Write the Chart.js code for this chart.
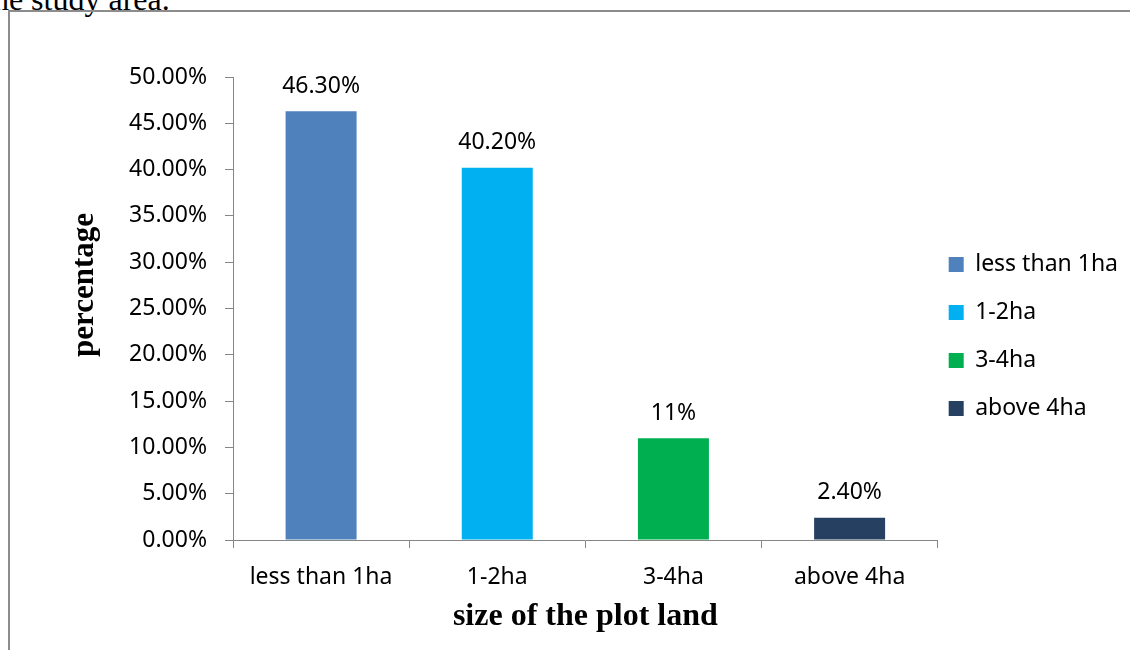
<!DOCTYPE html>
<html>
<head>
<meta charset="utf-8">
<script src="https://cdn.jsdelivr.net/npm/chart.js@4"></script>
<style>
  html, body { margin: 0; padding: 0; background: #fff; overflow: hidden; }
  .page { position: relative; width: 1130px; height: 650px; }
  .caption { position: absolute; left: -16px; top: -17px; font: 32px/32px "Liberation Serif", "Times New Roman", serif; color: #000; white-space: nowrap; }
  .frame { position: absolute; left: 8px; top: 10px; right: 0; bottom: 0; border-top: 2px solid #8c8c8c; border-left: 2px solid #8c8c8c; }
  .wrap { position: absolute; left: 0; top: 0; width: 1130px; height: 650px; }
</style>
</head>
<body>
<div class="page">
  <div class="caption">the study area.</div>
  <div class="frame"></div>
  <div class="wrap"><canvas id="plotChart" width="1130" height="650"></canvas></div>
</div>
<script>
const categories = ['less than 1ha', '1-2ha', '3-4ha', 'above 4ha'];
const shares = [46.3, 40.2, 11, 2.4];
const shareLabels = ['46.30%', '40.20%', '11%', '2.40%'];
const barColors = ['#4F81BD', '#00B0F0', '#00B050', '#254061'];
const yMin = 0, yMax = 50, yStep = 5;

const axisGray = '#868686';
const tickFont = { family: "'Noto Sans', 'Open Sans', sans-serif", size: 23 };

// value labels above each bar
const valueLabels = {
    id: 'valueLabels',
    afterDatasetsDraw(chart) {
        const ctx = chart.ctx;
        const meta = chart.getDatasetMeta(0);
        ctx.save();
        ctx.font = "23px 'Noto Sans', 'Open Sans', sans-serif";
        ctx.fillStyle = '#000';
        ctx.textAlign = 'center';
        ctx.textBaseline = 'alphabetic';
        meta.data.forEach((bar, i) => {
            ctx.fillText(shareLabels[i], bar.x, bar.y - 18.5);
        });
        ctx.restore();
    }
};

// y axis title, sits a bit above the plot centre like the original
const yTitle = {
    id: 'yTitle',
    afterDraw(chart) {
        const ctx = chart.ctx;
        ctx.save();
        ctx.translate(85, 285);
        ctx.rotate(-Math.PI / 2);
        ctx.font = "bold 31px 'Liberation Serif', 'Times New Roman', serif";
        ctx.fillStyle = '#000';
        ctx.textAlign = 'center';
        ctx.textBaseline = 'middle';
        ctx.fillText('percentage', 0, 0);
        ctx.restore();
    }
};

// nudge the legend to where the original has it
const legendShift = {
    id: 'legendShift',
    afterLayout(chart) {
        const lg = chart.legend;
        lg.left -= 14; lg.right -= 14;
        lg.top -= 27; lg.bottom -= 27;
    }
};

const ctx = document.getElementById('plotChart').getContext('2d');
const chart = new Chart(ctx, {
    type: 'bar',
    data: {
        labels: categories,
        datasets: [{
            data: shares,
            backgroundColor: barColors,
            borderWidth: 0,
            barPercentage: 0.403,
            categoryPercentage: 1
        }]
    },
    options: {
        responsive: false,
        animation: false,
        color: '#000',
        layout: { padding: { top: 77, left: 0, right: -12, bottom: 0 } },
        plugins: {
            tooltip: { enabled: false },
            legend: {
                position: 'right',
                labels: {
                    font: tickFont,
                    color: '#000',
                    boxWidth: 15,
                    boxHeight: 15,
                    padding: 25,
                    generateLabels: () => categories.map((c, i) => ({
                        text: c,
                        fillStyle: barColors[i],
                        strokeStyle: barColors[i],
                        lineWidth: 0,
                        index: i
                    }))
                }
            }
        },
        scales: {
            x: {
                afterFit(scale) { scale.height = 110; },
                grid: { display: true, drawOnChartArea: false, tickLength: 8, color: axisGray, offset: true },
                border: { color: axisGray, width: 1 },
                ticks: { font: tickFont, color: '#000', padding: 16, maxRotation: 0 },
                title: {
                    display: true,
                    text: 'size of the plot land',
                    color: '#000',
                    font: { family: "'Liberation Serif', 'Times New Roman', serif", size: 32, weight: 'bold' },
                    padding: { top: 0, bottom: 14 }
                }
            },
            y: {
                min: yMin,
                max: yMax,
                afterFit(scale) { scale.width = 233; },
                grid: { display: true, drawOnChartArea: false, tickLength: 8, color: axisGray },
                border: { color: axisGray, width: 1 },
                ticks: {
                    stepSize: yStep,
                    font: tickFont,
                    color: '#000',
                    padding: 18,
                    callback: v => v.toFixed(2) + '%'
                }
            }
        }
    },
    plugins: [valueLabels, yTitle, legendShift]
});
</script>
</body>
</html>
